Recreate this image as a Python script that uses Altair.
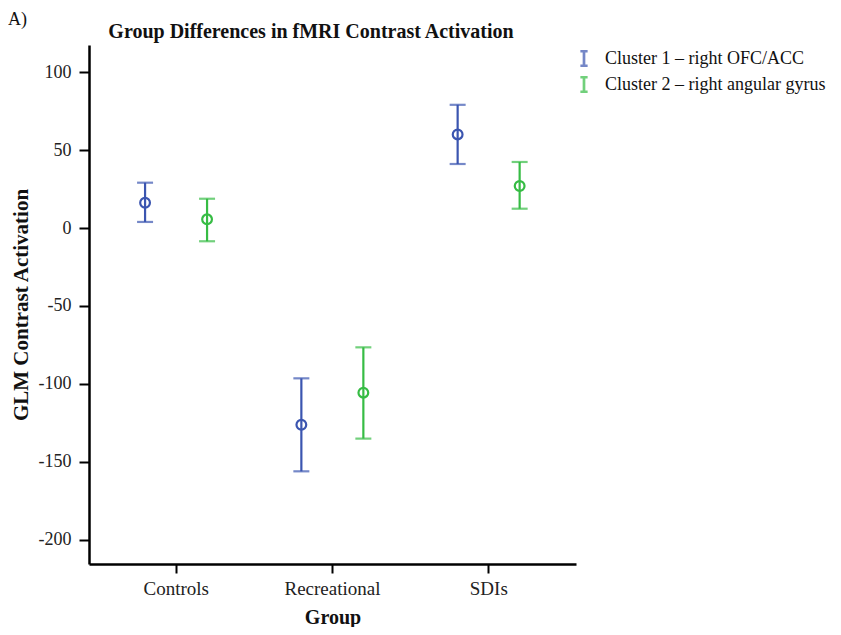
import altair as alt
import pandas as pd

groups = ["Controls", "Recreational", "SDIs"]
cluster_names = ["Cluster 1 – right OFC/ACC", "Cluster 2 – right angular gyrus"]
c1_mean = [16.2, -126.3, 60.1]
c1_low = [3.9, -156.2, 41.1]
c1_high = [29.1, -96.5, 79.1]
c2_mean = [5.6, -105.7, 27.0]
c2_low = [-8.5, -135.2, 12.4]
c2_high = [18.8, -76.6, 42.4]
y_ticks = [-200, -150, -100, -50, 0, 50, 100]
colors = ["#3B55B0", "#36BC44"]
chart_title = "Group Differences in fMRI Contrast Activation"
panel_tag = "A)"

rows = []
for i, g in enumerate(groups):
    rows.append({"Group": g, "Cluster": cluster_names[0], "mean": c1_mean[i], "low": c1_low[i], "high": c1_high[i]})
    rows.append({"Group": g, "Cluster": cluster_names[1], "mean": c2_mean[i], "low": c2_low[i], "high": c2_high[i]})
df = pd.DataFrame(rows)

FONT = "Liberation Serif"

x_enc = alt.X("Group:N", sort=groups, title="Group",
              scale=alt.Scale(type="band", paddingInner=0, paddingOuter=0.058),
              axis=alt.Axis(labelAngle=0, labelFontSize=19, titleFontSize=20, titleFontWeight="bold",
                            tickSize=9, labelPadding=6, titlePadding=9))
xo_enc = alt.XOffset("Cluster:N", sort=cluster_names,
                     scale=alt.Scale(type="point", range=[47, 109], padding=0))
y_scale = alt.Scale(domain=[-215.7, 117.5], nice=False, zero=False)
legend = alt.Legend(title=None, orient="none", legendX=486, legendY=4,
                    symbolType="M-0.5,-1H0.5M0,-1V1M-0.5,1H0.5",
                    symbolSize=210, symbolStrokeWidth=2.7,
                    labelFontSize=18, labelFont=FONT, labelColor="#111",
                    clipHeight=19, rowPadding=7, labelOffset=12, labelLimit=400)
color_enc = alt.Color("Cluster:N", sort=cluster_names,
                      scale=alt.Scale(domain=cluster_names, range=colors),
                      legend=legend)

base = alt.Chart(df)

rules = base.mark_rule(strokeWidth=2.2).encode(
    x=x_enc, xOffset=xo_enc,
    y=alt.Y("low:Q", scale=y_scale, title="GLM Contrast Activation",
            axis=alt.Axis(values=y_ticks, labelFontSize=18, titleFontSize=21, titleFontWeight="bold",
                          tickSize=10, labelPadding=8, titlePadding=7,
                          labelExpr="'' + datum.value")),
    y2="high:Q",
    color=color_enc,
)
caps_low = base.mark_tick(thickness=2.2, size=16, orient="horizontal").encode(
    x=x_enc, xOffset=xo_enc, y=alt.Y("low:Q", scale=y_scale), color=color_enc)
caps_high = base.mark_tick(thickness=2.2, size=16, orient="horizontal").encode(
    x=x_enc, xOffset=xo_enc, y=alt.Y("high:Q", scale=y_scale), color=color_enc)
points = base.mark_point(filled=False, size=95, strokeWidth=2.2, opacity=1).encode(
    x=x_enc, xOffset=xo_enc, y=alt.Y("mean:Q", scale=y_scale), color=color_enc)

tag_df = pd.DataFrame({"label": [panel_tag]})
panel_label = alt.Chart(tag_df).mark_text(align="left", baseline="middle", fontSize=18, font=FONT,
                                          color="#111").encode(
    text="label:N", x=alt.value(-81), y=alt.value(-25))

title_df = pd.DataFrame({"label": [chart_title]})
title_mark = alt.Chart(title_df).mark_text(align="center", baseline="alphabetic", fontSize=20, font=FONT,
                                           fontWeight="bold", color="#111").encode(
    text="label:N", x=alt.value(222), y=alt.value(-7))

chart = alt.layer(rules, caps_low, caps_high, points, panel_label, title_mark).properties(
    width=487, height=519,
    autosize=alt.AutoSizeParams(type="none"),
    padding={"left": 81, "top": 37, "right": 257, "bottom": 63},
).configure(background="white").configure_view(stroke=None).configure_axis(
    grid=False, domainColor="black", domainWidth=2.5, tickColor="black", tickWidth=2,
    labelFont=FONT, titleFont=FONT, labelColor="#222", titleColor="#111",
)

chart.save("out.html", embed_options={"renderer": "svg", "actions": False})
